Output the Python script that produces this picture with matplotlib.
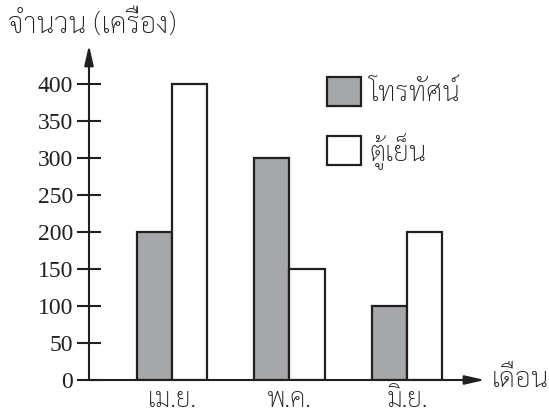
import numpy as np
import matplotlib
matplotlib.use("Agg")
import matplotlib.pyplot as plt

# data
months = ["เม.ย.", "พ.ค.", "มิ.ย."]
tv = [200, 300, 100]
fridge = [400, 150, 200]
yticks = [0, 50, 100, 150, 200, 250, 300, 350, 400]

thai = ["Sarabun", "DejaVu Sans"]
serif = ["Liberation Serif", "DejaVu Serif"]
gray = "#a6a7aa"
ink = "#231f20"

fig = plt.figure(figsize=(5.49, 4.17), dpi=100)
ax = fig.add_axes([0.1621, 0.0887, 0.7213, 0.8034])

x = np.arange(len(months))
w = 0.3
ax.bar(x - w / 2, tv, w, color=gray, edgecolor=ink, linewidth=1.6, label="โทรทัศน์")
ax.bar(x + w / 2, fridge, w, color="white", edgecolor=ink, linewidth=1.6, label="ตู้เย็น")

ax.set_xlim(-0.706, 2.664)
ax.set_ylim(0, 452.7)

for s in ax.spines.values():
    s.set_visible(False)

# axes drawn as arrows
arrow = dict(arrowstyle="-|>,head_length=0.75,head_width=0.17", color=ink, lw=1.5,
             mutation_scale=16, shrinkA=0, shrinkB=0)
ax.annotate("", xy=(0, 1), xytext=(0, 0), xycoords="axes fraction", arrowprops=arrow, annotation_clip=False)
ax.annotate("", xy=(1, 0), xytext=(0, 0), xycoords="axes fraction", arrowprops=arrow, annotation_clip=False)

ax.set_yticks(yticks)
ax.set_yticklabels([str(v) for v in yticks], family=serif, fontsize=17, color=ink)
ax.tick_params(axis="y", direction="inout", length=17, width=1.5, color=ink, pad=3)
ax.set_xticks(x)
ax.set_xticklabels(months, family=thai, fontsize=19, fontweight="light", color=ink)
ax.tick_params(axis="x", length=0, pad=5)

fig.text(8 / 549, 1 - 25 / 417, "จำนวน (เครื่อง)", family=thai, fontsize=20.5,
         fontweight="light", color=ink, va="center", ha="left")
ax.text(1.018, 0, "เดือน", family=thai, fontsize=20, fontweight="light", color=ink,
        va="center", ha="left", transform=ax.transAxes)

leg = ax.legend(loc="upper left", bbox_to_anchor=(0.567, 0.945), frameon=False,
                prop={"family": thai, "size": 20, "weight": "light"},
                handlelength=1.2, handleheight=1.2, handletextpad=0.3,
                labelspacing=0.9, borderpad=0)
for t in leg.get_texts():
    t.set_color(ink)

fig.savefig("out.png", dpi=100)
